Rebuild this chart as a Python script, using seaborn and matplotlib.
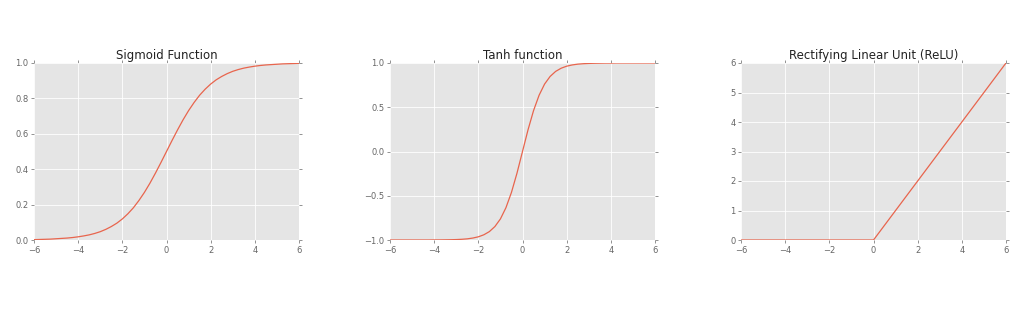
import numpy as np
import pandas as pd
import seaborn as sns
import matplotlib
matplotlib.use('Agg')
import matplotlib.pyplot as plt

x_vals = [-6.0, -5.75, -5.5, -5.25, -5.0, -4.75, -4.5, -4.25, -4.0, -3.75, -3.5, -3.25,
          -3.0, -2.75, -2.5, -2.25, -2.0, -1.75, -1.5, -1.25, -1.0, -0.75, -0.5, -0.25,
          0.0, 0.25, 0.5, 0.75, 1.0, 1.25, 1.5, 1.75, 2.0, 2.25, 2.5, 2.75,
          3.0, 3.25, 3.5, 3.75, 4.0, 4.25, 4.5, 4.75, 5.0, 5.25, 5.5, 5.75, 6.0]

sigmoid_vals = [0.002, 0.003, 0.004, 0.005, 0.007, 0.009, 0.011, 0.014, 0.018, 0.023, 0.029, 0.037,
                0.047, 0.060, 0.076, 0.095, 0.119, 0.148, 0.182, 0.223, 0.269, 0.321, 0.378, 0.438,
                0.500, 0.562, 0.622, 0.679, 0.731, 0.777, 0.818, 0.852, 0.881, 0.905, 0.924, 0.940,
                0.953, 0.963, 0.971, 0.977, 0.982, 0.986, 0.989, 0.991, 0.993, 0.995, 0.996, 0.997, 0.998]

tanh_vals = [-1.0, -1.0, -1.0, -1.0, -1.0, -1.0, -1.0, -1.0, -0.999, -0.999, -0.998, -0.997,
             -0.995, -0.992, -0.987, -0.978, -0.964, -0.941, -0.905, -0.848, -0.762, -0.635, -0.462, -0.245,
             0.0, 0.245, 0.462, 0.635, 0.762, 0.848, 0.905, 0.941, 0.964, 0.978, 0.987, 0.992,
             0.995, 0.997, 0.998, 0.999, 0.999, 1.0, 1.0, 1.0, 1.0, 1.0, 1.0, 1.0, 1.0]

relu_x = [-6.0, 0.0, 6.0]
relu_vals = [0.0, 0.0, 6.0]

titles = ['Sigmoid Function', 'Tanh function', 'Rectifying Linear Unit (ReLU)']
ylims = [(0, 1), (-1, 1), (0, 6)]
yticks = [[0.0, 0.2, 0.4, 0.6, 0.8, 1.0],
          [-1.0, -0.5, 0.0, 0.5, 1.0],
          [0, 1, 2, 3, 4, 5, 6]]
yfmt = ['{:.1f}', '{:.1f}', '{:d}']

sns.set_style('darkgrid', {'axes.facecolor': '#E5E5E5', 'grid.color': 'white',
                           'axes.edgecolor': 'white'})
plt.rcParams['font.family'] = ['DejaVu Sans']

LINE_COLOR = '#E8654D'

fig = plt.figure(figsize=(10.24, 3.14), dpi=100)
lefts = [34 / 1024, 390 / 1024, 741 / 1024]
width = 265 / 1024
bottom = 1 - 240 / 314
height = 177 / 314

series = [(x_vals, sigmoid_vals), (x_vals, tanh_vals), (relu_x, relu_vals)]

for i, (xs, ys) in enumerate(series):
    ax = fig.add_axes([lefts[i], bottom, width, height])
    df = pd.DataFrame({'x': xs, 'y': ys})
    sns.lineplot(data=df, x='x', y='y', ax=ax, color=LINE_COLOR, linewidth=0.9)
    ax.set_xlim(-6, 6)
    ax.set_ylim(*ylims[i])
    ax.set_xticks([-6, -4, -2, 0, 2, 4, 6])
    ax.set_xticklabels(['\u22126', '\u22124', '\u22122', '0', '2', '4', '6'])
    ax.set_yticks(yticks[i])
    ax.set_yticklabels([yfmt[i].format(v).replace('-', '\u2212') for v in yticks[i]])
    ax.set_xlabel('')
    ax.set_ylabel('')
    ax.set_title(titles[i], fontsize=8.5, color='#222222', pad=3)
    ax.tick_params(direction='out', length=2, width=0.5, colors='#666666',
                   labelsize=6, top=True, right=True, pad=2,
                   bottom=True, left=True)
    for s in ax.spines.values():
        s.set_visible(False)
    ax.grid(True, color='white', linewidth=0.6)

fig.savefig('out.png', dpi=100)
